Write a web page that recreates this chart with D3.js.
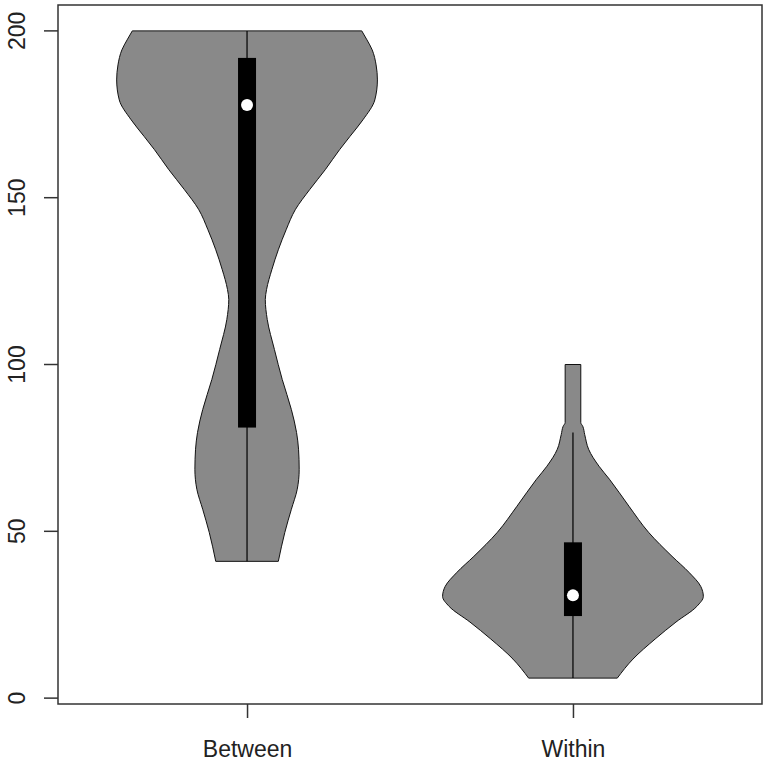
<!DOCTYPE html>
<html>
<head>
<meta charset="utf-8">
<script src="https://cdn.jsdelivr.net/npm/d3@7"></script>
<style>
    body { margin: 0; background: #fff; }
    svg { display: block; font-family: "Liberation Sans", Arial, sans-serif; }
</style>
</head>
<body>
<div id="chart"></div>
<script>
// Categories and tick labels
const categories = ['Between', 'Within'];
const yTicks = [0, 50, 100, 150, 200];

// Density outlines (value, relative half-width)
const betweenValues  = [41, 49.7, 56.6, 62.6, 68.6, 74.6, 79.6, 86.5, 95.5, 104.5, 113.5, 119.5, 122.5, 128.4, 134.4, 140.4, 146.4, 152.4, 158.4, 164.4, 168.4, 173.4, 179.3, 185.3, 189.8, 194.3, 197.3, 200];
const betweenDensity = [0.24, 0.29, 0.34, 0.385, 0.40, 0.395, 0.38, 0.34, 0.27, 0.21, 0.155, 0.14, 0.15, 0.19, 0.24, 0.30, 0.37, 0.48, 0.60, 0.71, 0.79, 0.89, 0.98, 1.0, 0.99, 0.96, 0.92, 0.88];

const withinValues  = [6, 11.7, 17.7, 22.8, 27.5, 30.5, 33.5, 37.7, 42.5, 49.7, 57.5, 65.6, 69.5, 74.6, 79, 81.5, 82.6, 100];
const withinDensity = [0.34, 0.46, 0.63, 0.79, 0.95, 1.0, 0.98, 0.89, 0.76, 0.58, 0.43, 0.28, 0.20, 0.12, 0.09, 0.075, 0.06, 0.06];

// Box statistics per category
const whiskerLow  = [41, 6];
const q1          = [81.1, 24.6];
const medians     = [177.8, 30.8];
const q3          = [191.9, 46.7];
const whiskerHigh = [200, 79.6];

const width = 768, height = 762;
const margin = { top: 5, right: 6, bottom: 58, left: 58 };

const svg = d3.select('#chart').append('svg')
    .attr('width', width)
    .attr('height', height);

const x = d3.scalePoint()
    .domain(categories)
    .range([margin.left, width - margin.right])
    .padding(0.58);

// R style 4% padding around the data range
const yMin = d3.min(withinValues), yMax = d3.max(betweenValues);
const pad = (yMax - yMin) * 0.04;
const y = d3.scaleLinear()
    .domain([yMin - pad, yMax + pad])
    .range([height - margin.bottom, margin.top]);

const halfWidth = d3.scaleLinear().domain([0, 1]).range([0, x.step() * 0.4]);
const boxHalf = 9;

const violins = [
    { name: 'Between', values: betweenValues, density: betweenDensity },
    { name: 'Within', values: withinValues, density: withinDensity }
];

violins.forEach((v, i) => {
    const cx = x(v.name);
    const pts = v.values.map((val, j) => ({ val, d: v.density[j] }));

    const area = d3.area()
        .y(p => y(p.val))
        .x0(p => cx - halfWidth(p.d))
        .x1(p => cx + halfWidth(p.d))
        .curve(d3.curveMonotoneY);

    svg.append('path')
        .datum(pts)
        .attr('d', area)
        .attr('fill', '#898989')
        .attr('stroke', '#111')
        .attr('stroke-width', 1);

    // whisker line
    svg.append('line')
        .attr('x1', cx).attr('x2', cx)
        .attr('y1', y(whiskerLow[i])).attr('y2', y(whiskerHigh[i]))
        .attr('stroke', '#000')
        .attr('stroke-width', 1.2);

    // box
    svg.append('rect')
        .attr('x', cx - boxHalf)
        .attr('y', y(q3[i]))
        .attr('width', boxHalf * 2)
        .attr('height', y(q1[i]) - y(q3[i]))
        .attr('fill', '#000');

    // median
    svg.append('circle')
        .attr('cx', cx)
        .attr('cy', y(medians[i]))
        .attr('r', 6)
        .attr('fill', '#fff');
});

// frame
svg.append('rect')
    .attr('x', margin.left)
    .attr('y', margin.top)
    .attr('width', width - margin.left - margin.right)
    .attr('height', height - margin.top - margin.bottom)
    .attr('fill', 'none')
    .attr('stroke', '#333')
    .attr('stroke-width', 1.5);

// y axis
const yAxis = svg.append('g')
    .attr('transform', `translate(${margin.left},0)`)
    .call(d3.axisLeft(y).tickValues(yTicks).tickSize(14).tickFormat(d3.format('d')));
yAxis.select('.domain').remove();
yAxis.selectAll('.tick').attr('transform', 'translate(0,0)');
yAxis.selectAll('.tick line')
    .attr('stroke', '#333').attr('stroke-width', 1.5)
    .attr('y1', d => y(d)).attr('y2', d => y(d)).attr('x2', -14);
yAxis.selectAll('text')
    .attr('x', 0).attr('dy', null).attr('y', 0)
    .attr('text-anchor', 'middle')
    .attr('transform', d => `translate(${25 - margin.left},${y(d)}) rotate(-90)`)
    .style('font-size', '23px')
    .attr('fill', '#222');

// x axis
const xAxis = svg.append('g')
    .attr('transform', `translate(0,${height - margin.bottom})`)
    .call(d3.axisBottom(x).tickSize(14));
xAxis.select('.domain').remove();
xAxis.selectAll('line').attr('stroke', '#333').attr('stroke-width', 1.5);
xAxis.selectAll('text')
    .attr('dy', null)
    .attr('y', 53)
    .style('font-size', '23px')
    .attr('fill', '#222');
</script>
</body>
</html>
